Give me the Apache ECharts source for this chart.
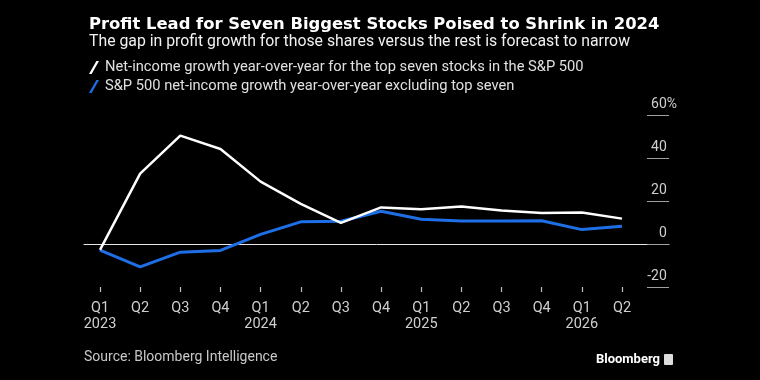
<!DOCTYPE html>
<html>
<head>
<meta charset="utf-8">
<script src="https://cdn.jsdelivr.net/npm/echarts@6/dist/echarts.min.js"></script>
<style>
html,body{margin:0;padding:0;background:#000;}
#c{width:760px;height:380px;}
</style>
</head>
<body>
<div id="c"></div>
<script>
const quarters = ['Q1','Q2','Q3','Q4','Q1','Q2','Q3','Q4','Q1','Q2','Q3','Q4','Q1','Q2'];
const years = ['2023','','','','2024','','','','2025','','','','2026',''];
const topSeven = [-2.7, 32.7, 50.4, 44.2, 29.0, 18.7, 9.8, 17.0, 16.2, 17.4, 15.6, 14.4, 14.6, 11.8];
const restOfIndex = [-2.8, -10.6, -3.8, -3.0, 4.5, 10.3, 10.6, 15.2, 11.5, 10.7, 10.7, 10.8, 6.7, 8.2];
const yTicks = [-20, 0, 20, 40, 60];
const seriesNames = ['Net-income growth year-over-year for the top seven stocks in the S&P 500',
                     'S&P 500 net-income growth year-over-year excluding top seven'];
const categories = quarters.map((q, i) => years[i] ? q + '\n' + years[i] : q);

const FONT = "'Roboto', sans-serif";
const chart = echarts.init(document.getElementById('c'), null, {renderer: 'canvas'});
const slash = 'path://M0,13 L2.6,13 L10,0 L7.4,0 Z';

chart.setOption({
  backgroundColor: '#000',
  animation: false,
  title: [{
    text: 'Profit Lead for Seven Biggest Stocks Poised to Shrink in 2024',
    left: 84, top: 12,
    textStyle: {color: '#fff', fontSize: 16.4, fontWeight: 'bold', fontFamily: "'DejaVu Sans', sans-serif"}
  }, {
    text: 'The gap in profit growth for those shares versus the rest is forecast to narrow',
    left: 84, top: 29,
    textStyle: {color: '#f0f0f0', fontSize: 15.8, fontWeight: 'normal', fontFamily: FONT}
  }],
  legend: {
    orient: 'vertical', left: 84, top: 55,
    itemWidth: 10, itemHeight: 13, itemGap: 4,
    data: [{name: seriesNames[0], icon: slash}, {name: seriesNames[1], icon: slash}],
    textStyle: {color: '#e0e0e0', fontSize: 14.7, fontFamily: FONT, padding: [0, 0, 0, 1]}
  },
  grid: [
    {left: 100, right: 138, top: 115, bottom: 93},
    {left: 84, right: 91, top: 115, bottom: 93}
  ],
  xAxis: [{
    gridIndex: 0, type: 'category', data: categories, boundaryGap: false, position: 'bottom', z: 10,
    axisLine: {show: true, onZero: false, lineStyle: {color: '#000', width: 1}},
    axisTick: {show: true, inside: false, length: 5, interval: 0, lineStyle: {color: '#c0c0c0', width: 1.2}},
    axisLabel: {color: '#cfcfcf', fontSize: 14.5, fontFamily: FONT, lineHeight: 16, margin: 13, interval: 0}
  }, {
    gridIndex: 1, type: 'value', min: 0, max: 1,
    axisLine: {show: true, onZero: true, lineStyle: {color: '#e6e6e6', width: 1}},
    axisTick: {show: false}, axisLabel: {show: false}, splitLine: {show: false}
  }],
  yAxis: [{
    gridIndex: 0, type: 'value', min: yTicks[0], max: yTicks[yTicks.length - 1], interval: 20,
    axisLine: {show: false}, axisTick: {show: false}, axisLabel: {show: false}, splitLine: {show: false}
  }, {
    gridIndex: 1, type: 'value', position: 'right',
    min: yTicks[0], max: yTicks[yTicks.length - 1], interval: 20,
    axisLine: {show: false, onZero: false},
    axisTick: {show: true, inside: true, length: 22, lineStyle: {color: '#a0a0a0', width: 1}},
    splitLine: {show: false},
    axisLabel: {
      inside: true, margin: -8, verticalAlign: 'bottom', padding: [0, 0, 4, 0],
      formatter: v => v === yTicks[yTicks.length - 1] ? '{n|' + v + '%}' : '{n|' + v + '}{h|%}',
      rich: {
        n: {color: '#cfcfcf', fontSize: 14, fontFamily: FONT},
        h: {color: 'rgba(0,0,0,0)', fontSize: 14, fontFamily: FONT}
      }
    }
  }],
  series: [{
    name: seriesNames[1], type: 'line', xAxisIndex: 0, yAxisIndex: 0,
    data: restOfIndex, showSymbol: false, symbol: 'none',
    lineStyle: {color: '#1e6ee6', width: 3}, itemStyle: {color: '#1e6ee6'}
  }, {
    name: seriesNames[0], type: 'line', xAxisIndex: 0, yAxisIndex: 0,
    data: topSeven, showSymbol: false, symbol: 'none',
    lineStyle: {color: '#ffffff', width: 2.5}, itemStyle: {color: '#ffffff'}
  }],
  graphic: [{
    type: 'text', left: 84, top: 350,
    style: {text: 'Source: Bloomberg Intelligence', fill: '#c8c8c8', fontSize: 14, fontFamily: FONT}
  }, {
    type: 'text', x: 660, y: 360,
    style: {text: 'Bloomberg', fill: '#fff', fontSize: 13, fontWeight: 'bold', align: 'right', verticalAlign: 'middle',
            fontFamily: "'Roboto', sans-serif"}
  }, {
    type: 'rect', x: 664, y: 354, shape: {width: 9, height: 11, r: 1}, style: {fill: '#ddd'}
  }]
});
</script>
</body>
</html>
